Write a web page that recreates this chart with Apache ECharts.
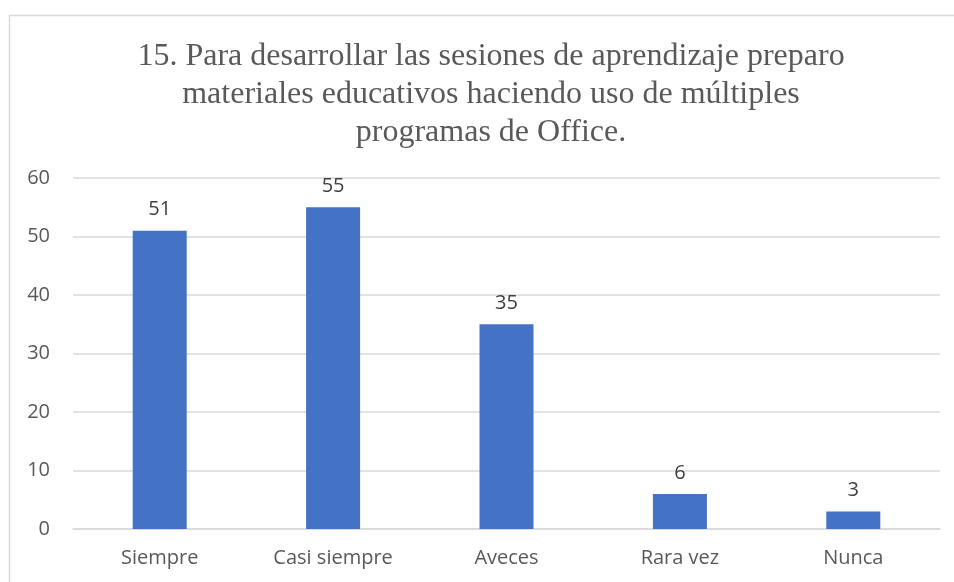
<!DOCTYPE html>
<html>
<head>
<meta charset="utf-8">
<script src="https://cdn.jsdelivr.net/npm/echarts@6/dist/echarts.min.js"></script>
<style>
  html, body { margin: 0; padding: 0; background: #fff; }
  #chart { width: 954px; height: 582px; }
</style>
</head>
<body>
<div id="chart"></div>
<script>
// categorías y valores
var categories = ['Siempre', 'Casi siempre', 'Aveces', 'Rara vez', 'Nunca'];
var values = [51, 55, 35, 6, 3];
var yTicks = [0, 10, 20, 30, 40, 50, 60];

var titleText = '15. Para desarrollar las sesiones de aprendizaje preparo\nmateriales educativos haciendo uso de múltiples\nprogramas de Office.';

var chart = echarts.init(document.getElementById('chart'));

var option = {
  backgroundColor: '#fff',
  animation: false,
  title: {
    text: titleText,
    left: 491,
    top: 38,
    textAlign: 'center',
    padding: 0,
    textStyle: {
      fontFamily: 'Liberation Serif',
      fontSize: 32,
      lineHeight: 38,
      fontWeight: 'normal',
      color: '#595959'
    }
  },
  // marco del gráfico
  graphic: [
    {
      type: 'rect',
      shape: { x: 9.5, y: 15.5, width: 960, height: 600 },
      style: { fill: 'none', stroke: '#d9d9d9', lineWidth: 1.5 },
      silent: true
    }
  ],
  grid: {
    left: 73,
    right: 14,
    top: 178,
    bottom: 53
  },
  xAxis: {
    type: 'category',
    data: categories,
    axisLine: { lineStyle: { color: '#d9d9d9', width: 1.5 } },
    axisTick: { show: false },
    axisLabel: {
      margin: 19,
      fontFamily: 'Open Sans',
      fontSize: 20,
      color: '#595959'
    }
  },
  yAxis: {
    type: 'value',
    min: yTicks[0],
    max: yTicks[yTicks.length - 1],
    interval: 10,
    axisLine: { show: false },
    axisTick: { show: false },
    splitLine: { lineStyle: { color: '#d9d9d9', width: 1.5 } },
    axisLabel: {
      margin: 23,
      fontFamily: 'Open Sans',
      fontSize: 20,
      color: '#595959'
    }
  },
  series: [
    {
      type: 'bar',
      data: values,
      barWidth: 54,
      itemStyle: { color: '#4472c4' },
      label: {
        show: true,
        position: 'top',
        distance: 11,
        fontFamily: 'Open Sans',
        fontSize: 20,
        color: '#404040'
      }
    }
  ]
};

chart.setOption(option);
</script>
</body>
</html>
